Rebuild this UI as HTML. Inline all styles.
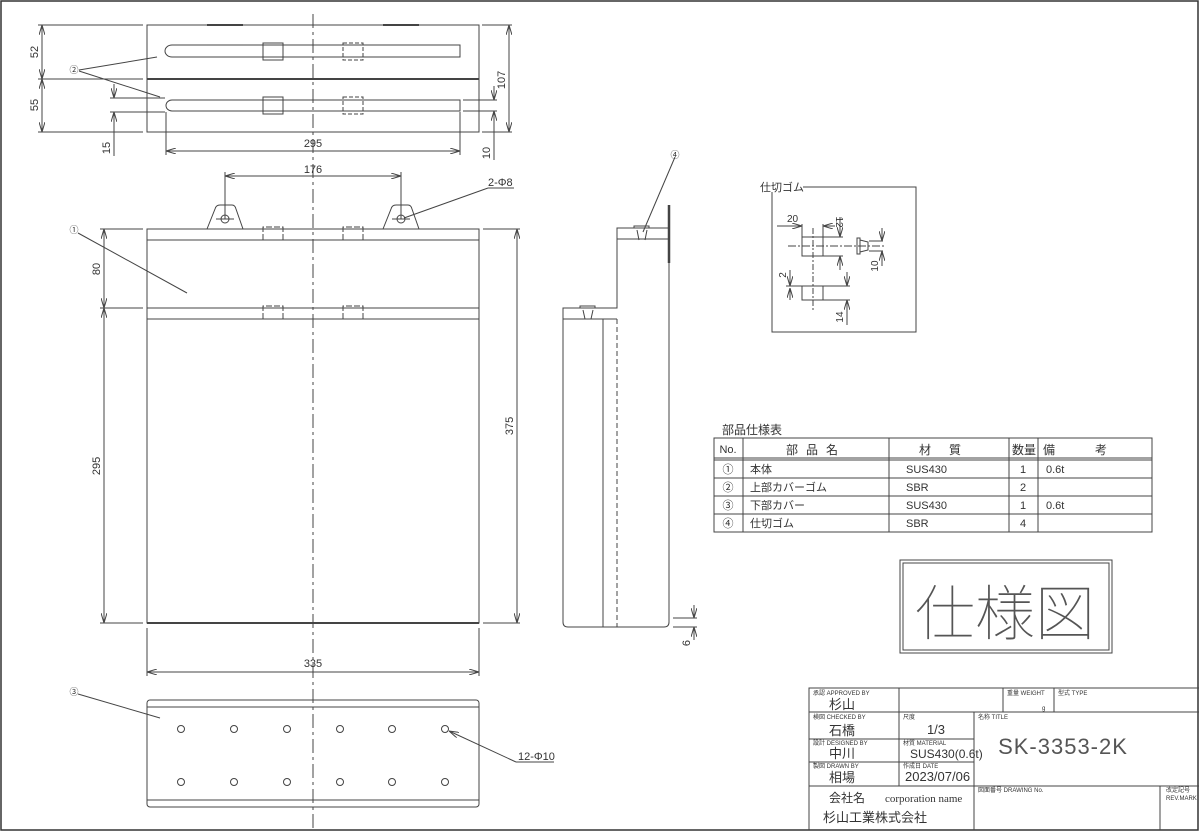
<!DOCTYPE html>
<html><head><meta charset="utf-8"><style>
html,body{margin:0;padding:0;background:#fff}
svg{display:block}
text{font-family:"Liberation Sans","Noto Sans CJK JP",sans-serif;fill:#333}
</style></head><body>
<svg width="1200" height="832" viewBox="0 0 1200 832" xmlns="http://www.w3.org/2000/svg">
<defs>
<marker id="a" viewBox="0 0 10 6" refX="10" refY="3" markerWidth="10" markerHeight="6" orient="auto-start-reverse" markerUnits="userSpaceOnUse"><path d="M0,0L10,3L0,6" fill="none" stroke="#444" stroke-width="1"/></marker>
</defs>
<rect x="1" y="1" width="1197" height="829" fill="none" stroke="#333" stroke-width="1.5"/>
<g fill="none" stroke="#444" stroke-width="1">
<line x1="313" y1="14" x2="313" y2="832" stroke-dasharray="14,4,3,4"/>
<rect x="147" y="25" width="332" height="107"/>
<line x1="147" y1="79" x2="479" y2="79" stroke-width="2"/>
<line x1="207" y1="25" x2="243" y2="25" stroke-width="2"/><line x1="383" y1="25" x2="419" y2="25" stroke-width="2"/>
<path d="M172,45 L460,45 L460,57 L172,57 A7,6 0 1 1 172,45"/>
<path d="M172,100 L460,100 L460,111 L172,111 A6,5.5 0 1 1 172,100"/>
<rect x="263" y="43" width="20" height="17"/><rect x="343" y="43" width="20" height="17" stroke-dasharray="4,2"/>
<rect x="263" y="97" width="20" height="17"/><rect x="343" y="97" width="20" height="17" stroke-dasharray="4,2"/>
<line x1="38" y1="25" x2="143" y2="25"/><line x1="38" y1="79" x2="143" y2="79"/><line x1="38" y1="132" x2="143" y2="132"/>
<line x1="42" y1="25" x2="42" y2="79" marker-start="url(#a)" marker-end="url(#a)"/>
<line x1="42" y1="79" x2="42" y2="132" marker-start="url(#a)" marker-end="url(#a)"/>
<line x1="110" y1="98" x2="165" y2="98"/><line x1="110" y1="112" x2="165" y2="112"/>
<line x1="114" y1="84" x2="114" y2="98" marker-end="url(#a)"/><line x1="114" y1="156" x2="114" y2="112" marker-end="url(#a)"/>
<line x1="166" y1="112" x2="166" y2="155"/><line x1="460" y1="112" x2="460" y2="155"/>
<line x1="166" y1="151" x2="460" y2="151" marker-start="url(#a)" marker-end="url(#a)"/>
<line x1="482" y1="25" x2="512" y2="25"/><line x1="482" y1="132" x2="512" y2="132"/>
<line x1="509" y1="25" x2="509" y2="132" marker-start="url(#a)" marker-end="url(#a)"/>
<line x1="463" y1="100" x2="497" y2="100"/><line x1="463" y1="111" x2="497" y2="111"/>
<line x1="494" y1="86" x2="494" y2="100" marker-end="url(#a)"/><line x1="494" y1="160" x2="494" y2="111" marker-end="url(#a)"/>
<line x1="79" y1="70" x2="157" y2="57"/><line x1="79" y1="71" x2="160" y2="97"/>
<line x1="225" y1="172" x2="225" y2="219"/><line x1="401" y1="172" x2="401" y2="219"/>
<line x1="225" y1="176" x2="401" y2="176" marker-start="url(#a)" marker-end="url(#a)"/>
<path d="M207,229 L215,209 Q216,205 220,205 L232,205 Q235,205 236,209 L243,229"/>
<path d="M383,229 L391,209 Q392,205 396,205 L408,205 Q411,205 412,209 L419,229"/>
<circle cx="225" cy="219" r="4"/><circle cx="401" cy="219" r="4"/>
<line x1="216" y1="219" x2="234" y2="219"/><line x1="392" y1="219" x2="410" y2="219"/>
<line x1="404" y1="218" x2="488" y2="188"/><line x1="488" y1="188" x2="514" y2="188"/>
<rect x="147" y="229" width="332" height="394"/>
<line x1="147" y1="240" x2="479" y2="240"/>
<line x1="147" y1="308" x2="479" y2="308"/><line x1="147" y1="319" x2="479" y2="319"/>
<line x1="147" y1="623" x2="479" y2="623" stroke-width="2"/>
<path d="M263,240 V227 H283 V240 M343,240 V227 H363 V240" stroke-dasharray="6,2"/>
<path d="M263,319 V306 H283 V319 M343,319 V306 H363 V319" stroke-dasharray="6,2"/>
<line x1="100" y1="229" x2="143" y2="229"/><line x1="100" y1="308" x2="143" y2="308"/><line x1="100" y1="623" x2="143" y2="623"/>
<line x1="104" y1="229" x2="104" y2="308" marker-start="url(#a)" marker-end="url(#a)"/>
<line x1="104" y1="308" x2="104" y2="623" marker-start="url(#a)" marker-end="url(#a)"/>
<line x1="483" y1="229" x2="520" y2="229"/><line x1="483" y1="623" x2="520" y2="623"/>
<line x1="517" y1="229" x2="517" y2="623" marker-start="url(#a)" marker-end="url(#a)"/>
<line x1="78" y1="233" x2="187" y2="293"/>
<line x1="147" y1="628" x2="147" y2="676"/><line x1="479" y1="628" x2="479" y2="676"/>
<line x1="147" y1="672" x2="479" y2="672" marker-start="url(#a)" marker-end="url(#a)"/>
<rect x="147" y="700" width="332" height="107" rx="3"/>
<line x1="147" y1="707" x2="479" y2="707"/><line x1="147" y1="800" x2="479" y2="800"/>
<g>
<circle cx="181" cy="729" r="3.5"/><circle cx="234" cy="729" r="3.5"/><circle cx="287" cy="729" r="3.5"/><circle cx="340" cy="729" r="3.5"/><circle cx="392" cy="729" r="3.5"/><circle cx="445" cy="729" r="3.5"/>
<circle cx="181" cy="782" r="3.5"/><circle cx="234" cy="782" r="3.5"/><circle cx="287" cy="782" r="3.5"/><circle cx="340" cy="782" r="3.5"/><circle cx="392" cy="782" r="3.5"/><circle cx="445" cy="782" r="3.5"/>
</g>
<line x1="78" y1="694" x2="160" y2="718"/>
<line x1="516" y1="762" x2="449" y2="731" marker-end="url(#a)"/><line x1="516" y1="762" x2="554" y2="762"/>
<path d="M617,228 H669 V622 Q669,627 664,627 H568 Q563,627 563,622 V308 H617 Z"/>
<line x1="617" y1="228" x2="617" y2="308"/>
<line x1="617" y1="239" x2="669" y2="239"/>
<line x1="563" y1="319" x2="617" y2="319"/>
<line x1="603" y1="319" x2="603" y2="627"/>
<line x1="617" y1="319" x2="617" y2="627" stroke-dasharray="5,3"/>
<line x1="669" y1="205" x2="669" y2="263" stroke-width="2.5"/>
<path d="M634,228 V226 H649 V228 M637,230 L639,240 M647,230 L645,240" />
<path d="M580,308 V306 H595 V308 M583,310 L585,319 M593,310 L591,319"/>
<line x1="675" y1="157" x2="643" y2="232"/>
<line x1="673" y1="618" x2="697" y2="618"/><line x1="673" y1="627" x2="697" y2="627"/>
<line x1="694" y1="605" x2="694" y2="618" marker-end="url(#a)"/><line x1="694" y1="640" x2="694" y2="627" marker-end="url(#a)"/>
<path d="M803,187 H916 V332 H772 V192"/>
<rect x="802" y="237" width="21" height="19"/>
<rect x="802" y="286" width="21" height="14"/>
<line x1="813" y1="228" x2="813" y2="312" stroke-dasharray="6,2,2,2"/>
<line x1="788" y1="246" x2="885" y2="246" stroke-dasharray="8,2,2,2"/>
<path d="M857,238 H860 V254 H857 Z M860,240 L868,242 V250 L860,252"/>
<line x1="777" y1="226" x2="802" y2="226" marker-end="url(#a)"/><line x1="802" y1="224" x2="802" y2="237"/><line x1="823" y1="224" x2="823" y2="237"/><line x1="835" y1="226" x2="823" y2="226" marker-end="url(#a)"/>
<line x1="823" y1="237" x2="843" y2="237"/><line x1="823" y1="256" x2="843" y2="256"/>
<line x1="840" y1="217" x2="840" y2="237" marker-end="url(#a)"/><line x1="840" y1="270" x2="840" y2="256" marker-end="url(#a)"/>
<line x1="869" y1="241" x2="883" y2="241"/><line x1="869" y1="251" x2="883" y2="251"/>
<line x1="882" y1="228" x2="882" y2="241" marker-end="url(#a)"/><line x1="882" y1="266" x2="882" y2="251" marker-end="url(#a)"/>
<line x1="786" y1="286" x2="802" y2="286"/>
<line x1="790" y1="270" x2="790" y2="286" marker-end="url(#a)"/><line x1="790" y1="300" x2="790" y2="288" marker-end="url(#a)"/>
<line x1="823" y1="286" x2="850" y2="286"/><line x1="823" y1="300" x2="850" y2="300"/>
<line x1="847" y1="272" x2="847" y2="286" marker-end="url(#a)"/><line x1="847" y1="325" x2="847" y2="300" marker-end="url(#a)"/>
<rect x="714" y="438" width="438" height="94"/>
<line x1="714" y1="458" x2="1152" y2="458"/><line x1="714" y1="460" x2="1152" y2="460"/>
<line x1="714" y1="478" x2="1152" y2="478"/><line x1="714" y1="496" x2="1152" y2="496"/><line x1="714" y1="514" x2="1152" y2="514"/>
<line x1="743" y1="438" x2="743" y2="532"/><line x1="889" y1="438" x2="889" y2="532"/><line x1="1009" y1="438" x2="1009" y2="532"/><line x1="1038" y1="438" x2="1038" y2="532"/>
<rect x="900" y="560" width="212" height="93"/><rect x="903" y="563" width="206" height="87"/>
<path d="M809,830 V688 H1199"/>
<line x1="809" y1="712" x2="1199" y2="712"/><line x1="809" y1="739" x2="974" y2="739"/><line x1="809" y1="762" x2="974" y2="762"/><line x1="809" y1="786" x2="1199" y2="786"/>
<line x1="899" y1="688" x2="899" y2="786"/><line x1="1003" y1="688" x2="1003" y2="712"/><line x1="1054" y1="688" x2="1054" y2="712"/>
<line x1="974" y1="712" x2="974" y2="830"/><line x1="1160" y1="786" x2="1160" y2="830"/>
</g>
<g font-size="11">
<text transform="translate(38,52) rotate(-90)" text-anchor="middle">52</text>
<text transform="translate(38,105) rotate(-90)" text-anchor="middle">55</text>
<text transform="translate(110,148) rotate(-90)" text-anchor="middle">15</text>
<text x="313" y="147" text-anchor="middle">295</text>
<text transform="translate(505,80) rotate(-90)" text-anchor="middle">107</text>
<text transform="translate(490,153) rotate(-90)" text-anchor="middle">10</text>
<text x="74" y="73" text-anchor="middle" font-size="9">②</text>
<text x="313" y="173" text-anchor="middle">176</text>
<text x="488" y="186">2-Φ8</text>
<text x="74" y="233" text-anchor="middle" font-size="9">①</text>
<text transform="translate(100,269) rotate(-90)" text-anchor="middle">80</text>
<text transform="translate(100,466) rotate(-90)" text-anchor="middle">295</text>
<text transform="translate(513,426) rotate(-90)" text-anchor="middle">375</text>
<text x="313" y="667" text-anchor="middle">335</text>
<text x="74" y="695" text-anchor="middle" font-size="9">③</text>
<text x="518" y="760">12-Φ10</text>
<text x="675" y="158" text-anchor="middle" font-size="9">④</text>
<text transform="translate(690,643) rotate(-90)" text-anchor="middle">6</text>
<text x="760" y="191">仕切ゴム</text>
<text x="787" y="222" font-size="10">20</text>
<text transform="translate(836,222) rotate(90)" text-anchor="middle" font-size="10">12</text>
<text transform="translate(878,266) rotate(-90)" text-anchor="middle" font-size="10">10</text>
<text transform="translate(786,275) rotate(-90)" text-anchor="middle" font-size="10">2</text>
<text transform="translate(843,317) rotate(-90)" text-anchor="middle" font-size="10">14</text>
<text x="722" y="434" font-size="12">部品仕様表</text>
<text x="728" y="453" text-anchor="middle">No.</text>
<text x="816" y="454" text-anchor="middle" font-size="12" letter-spacing="8">部品名</text>
<text x="949" y="454" text-anchor="middle" font-size="12" letter-spacing="18">材質</text>
<text x="1024" y="454" text-anchor="middle" font-size="12">数量</text>
<text x="1095" y="454" text-anchor="middle" font-size="12" letter-spacing="40">備考</text>
<text x="728" y="473" text-anchor="middle">①</text><text x="750" y="473">本体</text><text x="906" y="473">SUS430</text><text x="1023" y="473" text-anchor="middle">1</text><text x="1046" y="473">0.6t</text>
<text x="728" y="491" text-anchor="middle">②</text><text x="750" y="491">上部カバーゴム</text><text x="906" y="491">SBR</text><text x="1023" y="491" text-anchor="middle">2</text>
<text x="728" y="509" text-anchor="middle">③</text><text x="750" y="509">下部カバー</text><text x="906" y="509">SUS430</text><text x="1023" y="509" text-anchor="middle">1</text><text x="1046" y="509">0.6t</text>
<text x="728" y="527" text-anchor="middle">④</text><text x="750" y="527">仕切ゴム</text><text x="906" y="527">SBR</text><text x="1023" y="527" text-anchor="middle">4</text>
</g>
<text x="1005" y="635" text-anchor="middle" font-size="60" font-weight="100" style="fill:#555">仕様図</text>
<g font-size="6">
<text x="813" y="695">承認 APPROVED BY</text>
<text x="813" y="719">検図 CHECKED BY</text>
<text x="813" y="745">設計 DESIGNED BY</text>
<text x="813" y="768">製図 DRAWN BY</text>
<text x="903" y="719">尺度</text>
<text x="903" y="745">材質 MATERIAL</text>
<text x="903" y="768">作成日 DATE</text>
<text x="1007" y="695">重量 WEIGHT</text>
<text x="1058" y="695">型式 TYPE</text>
<text x="978" y="719">名称 TITLE</text>
<text x="978" y="792">図面番号 DRAWING No.</text>
<text x="1166" y="792">改定記号</text>
<text x="1166" y="800">REV.MARK</text>
<text x="1042" y="710">g</text>
</g>
<g font-size="13">
<text x="829" y="709">杉山</text>
<text x="829" y="735">石橋</text>
<text x="829" y="758">中川</text>
<text x="829" y="782">相場</text>
<text x="936" y="734" text-anchor="middle">1/3</text>
<text x="910" y="758" font-size="12">SUS430(0.6t)</text>
<text x="905" y="781">2023/07/06</text>
<text x="829" y="802" font-size="12">会社名</text>
<text x="885" y="802" font-size="11" style="font-family:'Liberation Serif',serif">corporation name</text>
<text x="823" y="822" font-size="13">杉山工業株式会社</text>
</g>
<text x="1063" y="754" text-anchor="middle" font-size="22" letter-spacing="1" style="fill:#555">SK-3353-2K</text>
</svg>
</body></html>
